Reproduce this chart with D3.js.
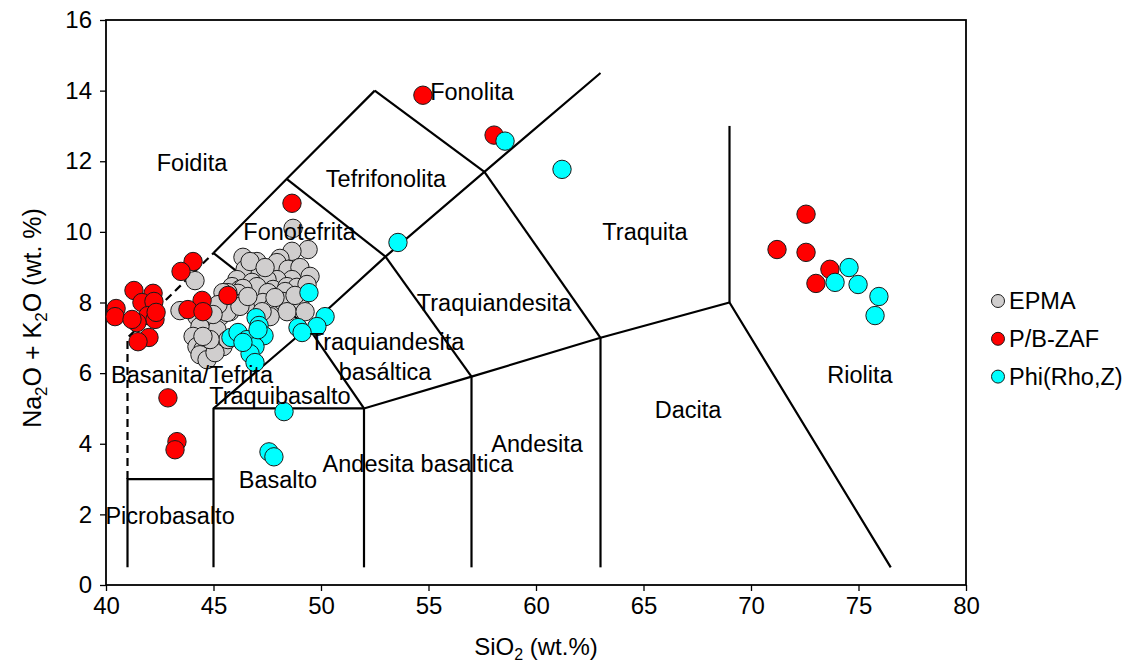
<!DOCTYPE html>
<html>
<head>
<meta charset="utf-8">
<script src="https://cdn.jsdelivr.net/npm/d3@7/dist/d3.min.js"></script>
<style>
  html, body { margin: 0; padding: 0; background: #fff; }
  svg { display: block; font-family: "Liberation Sans", Arial, sans-serif; }
</style>
</head>
<body>
<svg id="chart" width="1128" height="668"></svg>
<script>
// Axis ticks
const xTicks = [40, 45, 50, 55, 60, 65, 70, 75, 80];
const yTicks = [0, 2, 4, 6, 8, 10, 12, 14, 16];

// Series: [SiO2, Na2O + K2O] in wt.%
const epma = [
  [44.14, 8.62], [43.44, 7.77], [48.70, 10.10], [49.40, 9.50], [48.65, 9.45],
  [48.09, 9.25], [47.02, 9.16], [46.37, 9.28], [46.47, 8.94], [47.16, 8.79],
  [47.95, 9.13], [48.47, 8.94], [49.02, 8.99], [49.49, 8.74], [48.65, 8.65],
  [47.95, 8.65], [47.49, 8.65], [46.09, 8.65], [45.86, 8.45], [46.23, 8.37],
  [46.79, 8.57], [47.02, 8.45], [47.77, 8.37], [48.42, 8.45], [48.88, 8.43],
  [49.35, 8.51], [48.33, 8.31], [47.53, 8.28], [46.37, 8.40], [46.14, 8.26],
  [45.67, 8.28], [45.44, 8.28], [45.91, 8.00], [46.37, 8.00], [46.84, 7.89],
  [47.30, 8.00], [47.77, 7.89], [48.23, 8.03], [49.02, 8.06], [48.42, 7.74],
  [49.26, 7.74], [47.63, 7.60], [45.77, 7.74], [45.30, 7.60], [45.63, 7.72],
  [46.23, 7.89], [44.84, 7.43], [45.16, 7.23], [44.23, 7.60], [44.37, 7.32],
  [44.70, 6.95], [44.05, 7.04], [44.23, 6.75], [44.98, 6.75], [44.51, 6.67],
  [44.37, 6.52], [44.70, 6.38], [45.44, 6.75], [45.67, 6.95], [45.07, 6.58],
  [44.84, 6.95], [46.70, 9.16], [47.40, 8.99], [47.86, 8.14], [48.79, 8.20],
  [46.60, 8.17], [47.26, 7.74], [45.21, 7.94], [44.98, 7.66], [44.51, 7.04]
];
const pbzaf = [
  [54.74, 13.87], [58.05, 12.74], [48.65, 10.81], [72.56, 10.50], [71.21, 9.50],
  [72.56, 9.42], [73.67, 8.94], [73.02, 8.54], [42.88, 5.30], [43.30, 4.06],
  [43.21, 3.83], [44.05, 9.16], [43.49, 8.88], [41.30, 8.34], [42.19, 8.26],
  [41.67, 8.00], [42.23, 8.03], [40.47, 7.83], [40.42, 7.60], [41.95, 7.63],
  [42.28, 7.52], [41.44, 7.43], [41.21, 7.52], [42.00, 7.01], [41.49, 6.89],
  [44.47, 8.06], [43.81, 7.80], [44.51, 7.74], [45.67, 8.20], [42.33, 7.72]
];
const phiRhoZ = [
  [58.56, 12.57], [61.21, 11.77], [53.58, 9.70], [49.44, 8.28], [50.19, 7.60],
  [49.81, 7.32], [48.93, 7.29], [49.12, 7.15], [74.56, 8.99], [73.91, 8.57],
  [74.98, 8.51], [75.95, 8.17], [75.77, 7.63], [48.28, 4.91], [47.58, 3.77],
  [47.81, 3.63], [46.98, 7.57], [47.12, 7.35], [45.81, 7.01], [46.14, 7.15],
  [46.56, 6.95], [47.35, 7.06], [46.93, 6.75], [46.70, 6.55], [46.93, 6.30],
  [46.37, 6.87], [47.07, 7.23]
];
const seriesNames = ["EPMA", "P/B-ZAF", "Phi(Rho,Z)"];

// TAS field boundaries (SiO2, Na2O + K2O)
const boundaries = [
  [[41, 0.5], [41, 3], [45, 3]],
  [[45, 0.5], [45, 5], [49.4, 7.3], [53, 9.3], [57.6, 11.7], [63, 14.5]],
  [[45, 5], [52, 5], [57, 5.9], [63, 7], [69, 8], [76.5, 0.5]],
  [[52, 0.5], [52, 5]],
  [[57, 0.5], [57, 5.9]],
  [[63, 0.5], [63, 7]],
  [[69, 8], [69, 13]],
  [[49.4, 7.3], [52, 5]],
  [[53, 9.3], [57, 5.9]],
  [[57.6, 11.7], [63, 7]],
  [[45, 9.4], [49.4, 7.3]],
  [[48.4, 11.5], [53, 9.3]],
  [[52.5, 14], [57.6, 11.7]],
  [[45, 9.4], [48.4, 11.5], [52.5, 14]]
];
const dashedBoundary = [[41, 3], [41, 7], [45, 9.4]];

// Field names, centred on [SiO2, Na2O + K2O]
const fieldNames = [
  ["Foidita", 44.0, 11.97],
  ["Fonolita", 57.02, 13.96],
  ["Tefrifonolita", 53.02, 11.49],
  ["Fonotefrita", 49.0, 10.0],
  ["Traquita", 65.07, 10.0],
  ["Traquiandesita", 58.05, 8.0],
  ["Traquiandesita", 53.07, 6.89],
  ["basáltica", 52.98, 6.04],
  ["Basanita/Tefrita", 44.0, 5.96],
  ["Traquibasalto", 48.09, 5.36],
  ["Riolita", 75.07, 5.96],
  ["Dacita", 67.07, 4.96],
  ["Andesita", 60.05, 4.0],
  ["Andesita basaltica", 54.51, 3.43],
  ["Basalto", 48.0, 2.98],
  ["Picrobasalto", 42.98, 1.96]
];

const colors = ["#d0cece", "#ff0000", "#00ffff"];

const svg = d3.select("#chart");
const plotLeft = 106, plotRight = 966, plotTop = 20, plotBottom = 585;

const x = d3.scaleLinear().domain([40, 80]).range([plotLeft, plotRight]);
const y = d3.scaleLinear().domain([0, 16]).range([plotBottom, plotTop]);

// Axes
const xAxis = svg.append("g")
  .attr("transform", `translate(0,${plotBottom})`)
  .call(d3.axisBottom(x).tickValues(xTicks).tickSize(6).tickPadding(6).tickSizeOuter(0));
const yAxis = svg.append("g")
  .attr("transform", `translate(${plotLeft},0)`)
  .call(d3.axisLeft(y).tickValues(yTicks).tickSize(6).tickPadding(8).tickSizeOuter(0));
[xAxis, yAxis].forEach(g => {
  g.select(".domain").remove();
  g.selectAll(".tick line").attr("stroke", "#000").attr("stroke-width", 1.3);
  g.selectAll(".tick text")
    .attr("fill", "#000")
    .style("font-size", "24px")
    .style("font-family", "'Liberation Sans', Arial, sans-serif");
});

// Plot frame
svg.append("rect")
  .attr("x", plotLeft).attr("y", plotTop)
  .attr("width", plotRight - plotLeft).attr("height", plotBottom - plotTop)
  .attr("fill", "none").attr("stroke", "#000").attr("stroke-width", 1.8);

// Field boundaries
const line = d3.line().x(d => x(d[0])).y(d => y(d[1]));
svg.append("g").selectAll("path")
  .data(boundaries)
  .join("path")
  .attr("d", line)
  .attr("fill", "none")
  .attr("stroke", "#000")
  .attr("stroke-width", 2.2)
  .attr("stroke-linejoin", "miter");
svg.append("path")
  .attr("d", line(dashedBoundary))
  .attr("fill", "none")
  .attr("stroke", "#000")
  .attr("stroke-width", 2.2)
  .attr("stroke-dasharray", "8,5");

// Points
[epma, pbzaf, phiRhoZ].forEach((data, i) => {
  svg.append("g").selectAll("circle")
    .data(data)
    .join("circle")
    .attr("cx", d => x(d[0]))
    .attr("cy", d => y(d[1]))
    .attr("r", 9.2)
    .attr("fill", colors[i])
    .attr("stroke", "#1a1a1a")
    .attr("stroke-width", 1);
});

// Field names
svg.append("g").selectAll("text")
  .data(fieldNames)
  .join("text")
  .attr("x", d => x(d[1]))
  .attr("y", d => y(d[2]))
  .attr("dy", "0.35em")
  .attr("text-anchor", "middle")
  .style("font-size", "23.5px")
  .attr("fill", "#000")
  .text(d => d[0]);

// Legend
const legend = svg.append("g");
seriesNames.forEach((name, i) => {
  const ly = 301 + i * 37.8;
  legend.append("circle")
    .attr("cx", 998).attr("cy", ly).attr("r", 6.5)
    .attr("fill", colors[i]).attr("stroke", "#1a1a1a").attr("stroke-width", 1);
  legend.append("text")
    .attr("x", 1009).attr("y", ly).attr("dy", "0.35em")
    .style("font-size", "23.5px")
    .text(name);
});

// Axis titles
const xt = svg.append("text")
  .attr("x", (plotLeft + plotRight) / 2).attr("y", 655)
  .attr("text-anchor", "middle")
  .style("font-size", "24px");
xt.append("tspan").text("SiO");
xt.append("tspan").attr("dy", 5).style("font-size", "16px").text("2");
xt.append("tspan").attr("dy", -5).text(" (wt.%)");

const yt = svg.append("text")
  .attr("transform", `translate(41,318) rotate(-90)`)
  .attr("text-anchor", "middle")
  .style("font-size", "25px");
yt.append("tspan").text("Na");
yt.append("tspan").attr("dy", 6).style("font-size", "17px").text("2");
yt.append("tspan").attr("dy", -6).text("O + K");
yt.append("tspan").attr("dy", 6).style("font-size", "17px").text("2");
yt.append("tspan").attr("dy", -6).text("O (wt. %)");
</script>
</body>
</html>
